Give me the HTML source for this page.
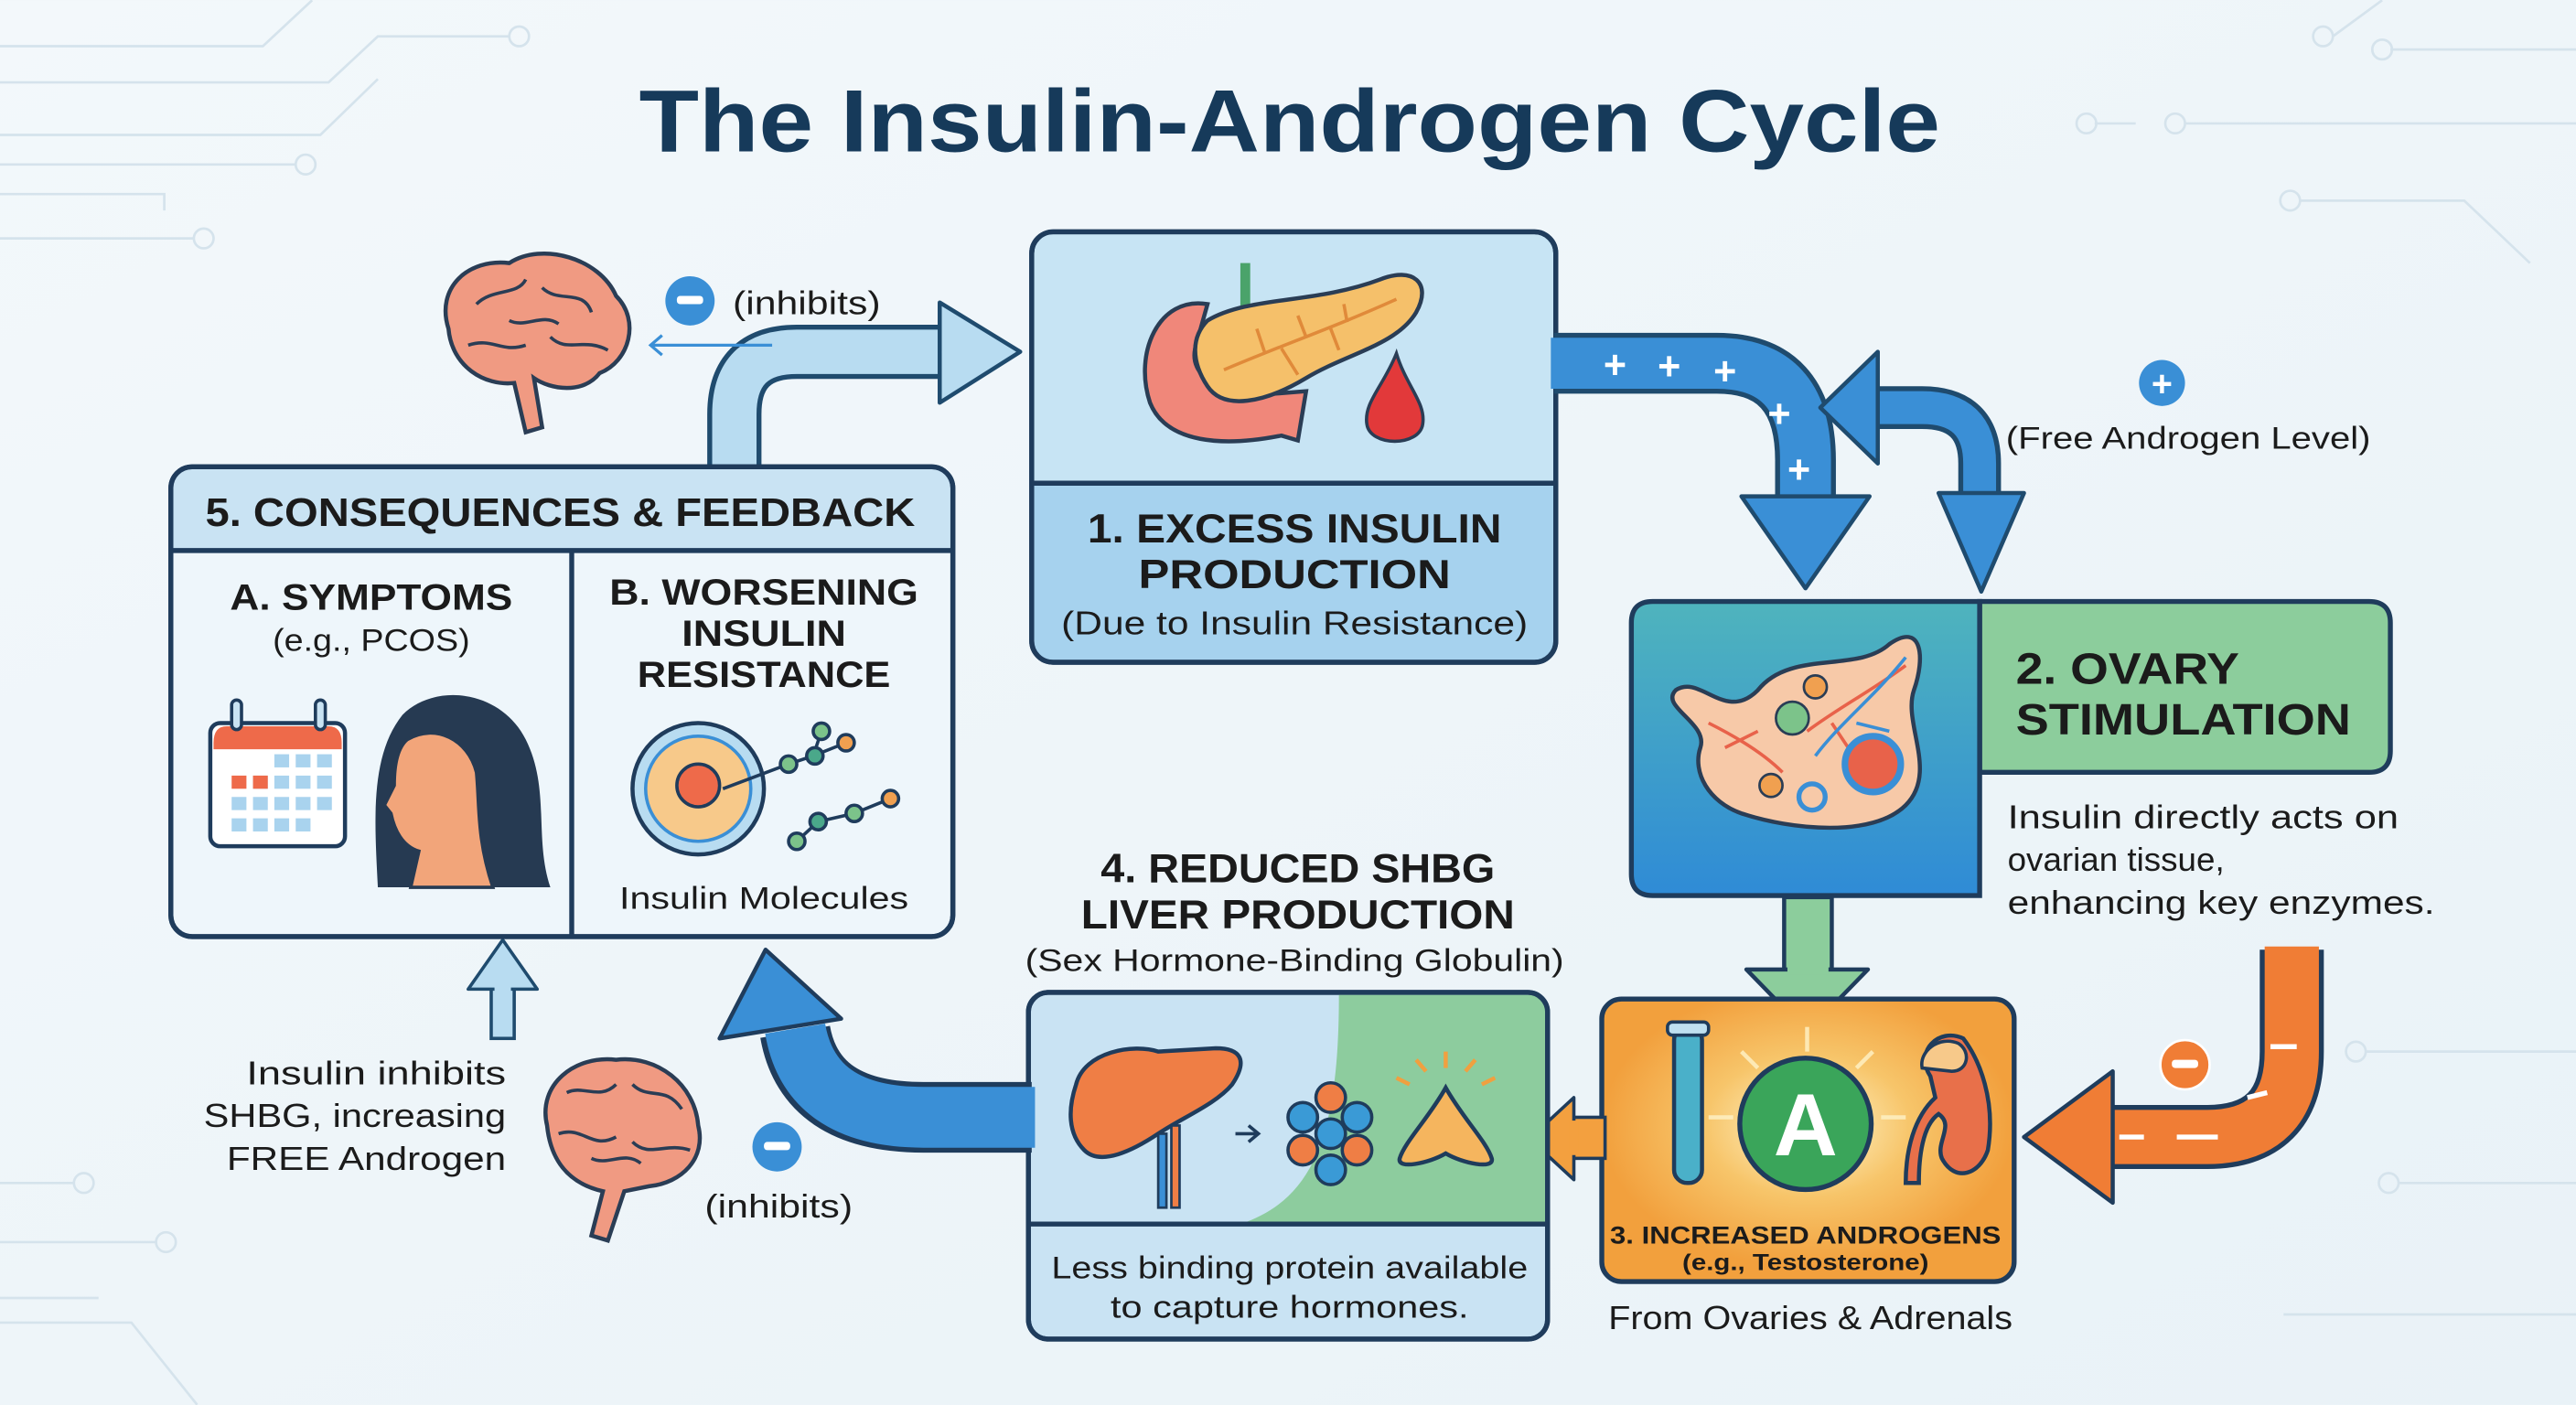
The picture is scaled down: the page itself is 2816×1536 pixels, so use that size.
<!DOCTYPE html>
<html><head><meta charset="utf-8"><style>
html,body{margin:0;padding:0;background:#eef5f9;}
svg{display:block;}
text{font-family:"Liberation Sans",sans-serif;fill:#1b1b1b;}
.b{font-weight:bold;}
</style></head><body>
<svg width="2816" height="1536" viewBox="0 0 1568 855" xmlns="http://www.w3.org/2000/svg">
<defs>
<linearGradient id="bg" x1="0" y1="0" x2="1" y2="1"><stop offset="0" stop-color="#f3f8fb"/><stop offset="1" stop-color="#e9f2f7"/></linearGradient>
<linearGradient id="ov" x1="0" y1="0" x2="0" y2="1"><stop offset="0" stop-color="#4fb4bd"/><stop offset="1" stop-color="#2f8bd6"/></linearGradient>
<radialGradient id="glow" cx="0.5" cy="0.45" r="0.5"><stop offset="0" stop-color="#fff7d0"/><stop offset="0.5" stop-color="#f7c56a"/><stop offset="1" stop-color="#f2a03d"/></radialGradient>
</defs>
<rect width="1568" height="855" fill="url(#bg)"/>
<g stroke="#d5e3ec" stroke-width="1.5" fill="none">
<path d="M0 28 H160 L190 0"/><path d="M0 50 H200 L230 22 H310"/><circle cx="316" cy="22" r="6"/>
<path d="M0 82 H195 L230 48"/><path d="M0 100 H180"/><circle cx="186" cy="100" r="6"/>
<path d="M0 118 H100 V128"/><path d="M0 145 H118"/><circle cx="124" cy="145" r="6"/>
<path d="M1420 22 L1450 0"/><circle cx="1414" cy="22" r="6"/><path d="M1455 30 H1568"/><circle cx="1450" cy="30" r="6"/>
<path d="M1330 75 H1568"/><circle cx="1324" cy="75" r="6"/><path d="M1400 122 H1500 L1540 160"/><circle cx="1394" cy="122" r="6"/>
<path d="M1275 75 H1300"/><circle cx="1270" cy="75" r="6"/>
<path d="M0 720 H45"/><circle cx="51" cy="720" r="6"/><path d="M0 756 H95"/><circle cx="101" cy="756" r="6"/>
<path d="M0 805 H80 L120 855"/><path d="M0 790 H60"/>
<path d="M1440 640 H1568"/><circle cx="1434" cy="640" r="6"/><path d="M1460 720 H1568"/><circle cx="1454" cy="720" r="6"/><path d="M1390 800 H1568"/>
</g>

<text x="785" y="92" text-anchor="middle" class="b" font-size="54" style="fill:#163a5a" textLength="792" lengthAdjust="spacingAndGlyphs">The Insulin-Androgen Cycle</text>

<path d="M447 290 V252 Q447 214 485 214 H578" fill="none" stroke="#1f4b6e" stroke-width="33"/>
<path d="M447 292 V252 Q447 214 485 214 H580" fill="none" stroke="#b8dcf1" stroke-width="27"/>
<polygon points="572,184 621,214 572,245" fill="#b8dcf1" stroke="#1f4b6e" stroke-width="2.5" stroke-linejoin="round"/>

<g transform="translate(325,205)">
<path d="M-52 -5 C-60 -30 -40 -48 -15 -45 C5 -58 40 -48 50 -25 C65 -10 58 15 40 22 C30 35 10 32 0 25 L5 55 L-5 58 L-12 28 C-30 30 -50 18 -52 -5Z" fill="#f09a82" stroke="#2a3d55" stroke-width="2.5"/>
<path d="M-35 -20 C-25 -30 -10 -25 -5 -35 M5 -30 C15 -20 30 -30 35 -15 M-40 5 C-25 0 -20 10 -5 5 M10 0 C20 10 30 0 45 8 M-15 -10 C-5 -5 5 -15 15 -8" fill="none" stroke="#2a3d55" stroke-width="2"/>
</g>
<circle cx="420" cy="183" r="15" fill="#3a8fd6"/><rect x="412" y="180" width="16" height="5" rx="2" fill="#fff"/>
<text x="446" y="191" font-size="20" textLength="90" lengthAdjust="spacingAndGlyphs">(inhibits)</text>
<path d="M470 210 H396 M403 204 L396 210 L403 216" fill="none" stroke="#3a8fd6" stroke-width="1.8"/>

<rect x="628" y="141" width="319" height="262" rx="13" fill="#c7e4f4" stroke="#1f3c5c" stroke-width="3"/>
<path d="M629.5 294 H945.5 V390 Q945.5 401.5 934 401.5 H642 Q629.5 401.5 629.5 390Z" fill="#a6d2ee"/>
<rect x="628" y="141" width="319" height="262" rx="13" fill="none" stroke="#1f3c5c" stroke-width="3"/>
<line x1="628" y1="294" x2="947" y2="294" stroke="#1f3c5c" stroke-width="3"/>
<rect x="755" y="160" width="6" height="30" fill="#4aa36a"/>
<path d="M735 185 C705 180 690 215 700 245 C710 270 745 272 780 265 L790 268 L795 238 L770 240 C745 240 722 230 728 210Z" fill="#f0877a" stroke="#2a3d55" stroke-width="2.5"/>
<path d="M735 195 C760 180 800 185 840 170 C860 162 872 172 862 190 C850 210 820 215 795 230 C770 245 745 250 735 235 C725 220 725 205 735 195Z" fill="#f5c06a" stroke="#2a3d55" stroke-width="2.5"/>
<path d="M745 225 C780 210 810 200 850 182 M770 215 L765 200 M795 205 L790 192 M820 196 L818 185 M780 212 L790 228 M810 200 L815 213" fill="none" stroke="#e08a3a" stroke-width="2"/>
<path d="M850 215 C842 235 830 245 832 258 C834 272 864 272 866 258 C868 245 856 235 850 215Z" fill="#e2393a" stroke="#2a3d55" stroke-width="2"/>
<text x="788" y="330" text-anchor="middle" class="b" font-size="25" textLength="252" lengthAdjust="spacingAndGlyphs">1. EXCESS INSULIN</text>
<text x="788" y="358" text-anchor="middle" class="b" font-size="25" textLength="190" lengthAdjust="spacingAndGlyphs">PRODUCTION</text>
<text x="788" y="386" text-anchor="middle" font-size="20" textLength="284" lengthAdjust="spacingAndGlyphs">(Due to Insulin Resistance)</text>

<path d="M946 221 H1045 Q1099 221 1099 280 V306" fill="none" stroke="#1f4b6e" stroke-width="37"/>
<path d="M944 221 H1045 Q1099 221 1099 280 V308" fill="none" stroke="#3a8fd6" stroke-width="31"/>
<polygon points="1060,302 1138,302 1099,358" fill="#3a8fd6" stroke="#1f4b6e" stroke-width="2.5" stroke-linejoin="round"/>
<g font-size="24" class="b"><text x="976" y="230" style="fill:#fff">+</text><text x="1009" y="231" style="fill:#fff">+</text><text x="1043" y="234" style="fill:#fff">+</text><text x="1076" y="260" style="fill:#fff">+</text><text x="1088" y="294" style="fill:#fff">+</text></g>

<path d="M1205 310 V282 Q1205 248 1170 248 H1140" fill="none" stroke="#1f4b6e" stroke-width="26"/>
<path d="M1205 312 V282 Q1205 248 1170 248 H1138" fill="none" stroke="#3a8fd6" stroke-width="20"/>
<polygon points="1180,300 1232,300 1206,360" fill="#3a8fd6" stroke="#1f4b6e" stroke-width="2.5" stroke-linejoin="round"/>
<polygon points="1143,214 1108,248 1143,282" fill="#3a8fd6" stroke="#1f4b6e" stroke-width="2.5" stroke-linejoin="round"/>
<circle cx="1316" cy="233" r="14" fill="#3a8fd6"/><text x="1316" y="241" text-anchor="middle" class="b" font-size="22" style="fill:#fff">+</text>
<text x="1221" y="273" font-size="19" textLength="222" lengthAdjust="spacingAndGlyphs">(Free Androgen Level)</text>

<path d="M1205 366 H1442 Q1455 366 1455 379 V457 Q1455 470 1442 470 H1205Z" fill="#8ccd9c" stroke="#1f3c5c" stroke-width="3"/>
<path d="M1006 366 H1205 V545 H1006 Q993 545 993 532 V379 Q993 366 1006 366Z" fill="url(#ov)" stroke="#1f3c5c" stroke-width="3"/>
<path d="M1020 420 C1035 410 1050 440 1070 420 C1090 395 1130 410 1150 392 C1170 378 1172 400 1165 420 C1158 440 1180 470 1160 490 C1140 510 1090 505 1060 495 C1040 488 1030 470 1035 455 C1040 440 1010 430 1020 420Z" fill="#f7c9a8" stroke="#2a3d55" stroke-width="2.5"/>
<path d="M1040 440 C1060 450 1075 460 1085 470 M1050 455 L1070 445 M1100 445 C1120 430 1140 420 1160 405 M1115 440 L1125 455" fill="none" stroke="#e8624a" stroke-width="2"/>
<path d="M1105 460 C1120 440 1140 425 1160 400 M1130 440 L1150 445" fill="none" stroke="#3a8fd6" stroke-width="2"/>
<circle cx="1091" cy="437" r="10" fill="#7cc38a" stroke="#2a3d55" stroke-width="1.5"/>
<circle cx="1105" cy="418" r="7" fill="#f0a050" stroke="#2a3d55" stroke-width="1.5"/>
<circle cx="1140" cy="465" r="17" fill="#e8624a" stroke="#3a8fd6" stroke-width="4"/>
<circle cx="1103" cy="485" r="8" fill="#f7c9a8" stroke="#3a8fd6" stroke-width="3"/>
<circle cx="1078" cy="478" r="7" fill="#f0a050" stroke="#2a3d55" stroke-width="1.5"/>
<text x="1227" y="416" class="b" font-size="27" textLength="136" lengthAdjust="spacingAndGlyphs">2. OVARY</text>
<text x="1227" y="447" class="b" font-size="27" textLength="204" lengthAdjust="spacingAndGlyphs">STIMULATION</text>
<text x="1222" y="504" font-size="20" textLength="238" lengthAdjust="spacingAndGlyphs">Insulin directly acts on</text>
<text x="1222" y="530" font-size="20" textLength="132" lengthAdjust="spacingAndGlyphs">ovarian tissue,</text>
<text x="1222" y="556" font-size="20" textLength="260" lengthAdjust="spacingAndGlyphs">enhancing key enzymes.</text>

<rect x="1086" y="546" width="29" height="46" fill="#8ccd9c" stroke="#1f3c5c" stroke-width="2.5"/>
<polygon points="1063,590 1137,590 1100,628" fill="#8ccd9c" stroke="#1f3c5c" stroke-width="2.5" stroke-linejoin="round"/>
<rect x="1088" y="585" width="25" height="8" fill="#8ccd9c"/>

<rect x="975" y="608" width="251" height="172" rx="12" fill="url(#glow)" stroke="#1f3c5c" stroke-width="3"/>
<g stroke="#fff3c8" stroke-width="2.5" opacity="0.8"><line x1="1100" y1="640" x2="1100" y2="625"/><line x1="1070" y1="650" x2="1060" y2="640"/><line x1="1130" y1="650" x2="1140" y2="640"/><line x1="1055" y1="680" x2="1040" y2="680"/><line x1="1145" y1="680" x2="1160" y2="680"/></g>
<rect x="1019" y="625" width="17" height="95" rx="8" fill="#4ab0c9" stroke="#1f3c5c" stroke-width="2.5"/>
<rect x="1015" y="622" width="25" height="8" rx="3" fill="#bfe0f0" stroke="#1f3c5c" stroke-width="2"/>
<circle cx="1099" cy="684" r="40" fill="#3aa55a" stroke="#1f3c5c" stroke-width="3"/>
<text x="1099" y="703" text-anchor="middle" class="b" font-size="54" style="fill:#fff">A</text>
<path d="M1175 655 C1165 640 1180 625 1195 632 C1205 645 1215 670 1210 700 C1205 715 1190 720 1182 705 C1178 695 1190 685 1180 678 C1170 685 1168 705 1168 720 L1160 720 C1160 700 1165 680 1178 668Z" fill="#e8704a" stroke="#1f3c5c" stroke-width="2.5"/>
<path d="M1170 650 C1168 640 1180 630 1192 635 C1200 640 1198 652 1188 652Z" fill="#f7c98a" stroke="#1f3c5c" stroke-width="2"/>
<text x="1099" y="757" text-anchor="middle" class="b" font-size="15" textLength="238" lengthAdjust="spacingAndGlyphs">3. INCREASED ANDROGENS</text>
<text x="1099" y="773" text-anchor="middle" class="b" font-size="14" textLength="150" lengthAdjust="spacingAndGlyphs">(e.g., Testosterone)</text>
<text x="1102" y="809" text-anchor="middle" font-size="20" textLength="246" lengthAdjust="spacingAndGlyphs">From Ovaries &amp; Adrenals</text>

<path d="M1395 578 V640 Q1395 692 1343 692 H1284" fill="none" stroke="#1f3c5c" stroke-width="39"/>
<path d="M1395 576 V640 Q1395 692 1343 692 H1282" fill="none" stroke="#f07d35" stroke-width="33"/>
<polygon points="1286,652 1286,732 1232,692" fill="#f07d35" stroke="#1f3c5c" stroke-width="2.5" stroke-linejoin="round"/>
<circle cx="1330" cy="648" r="15" fill="#f07d35" stroke="#fff" stroke-width="1.5"/><rect x="1322" y="645" width="16" height="5" rx="2" fill="#fff"/>
<g stroke="#fff" stroke-width="3"><line x1="1382" y1="637" x2="1398" y2="637"/><line x1="1368" y1="668" x2="1380" y2="665"/><line x1="1325" y1="692" x2="1350" y2="692"/><line x1="1290" y1="692" x2="1305" y2="692"/></g>

<rect x="955" y="680" width="22" height="25" fill="#f3a03f" stroke="#1f3c5c" stroke-width="2"/>
<polygon points="958,668 958,718 931,693" fill="#f3a03f" stroke="#1f3c5c" stroke-width="2" stroke-linejoin="round"/>
<rect x="955" y="682" width="6" height="21" fill="#f3a03f"/>

<text x="790" y="537" text-anchor="middle" class="b" font-size="25" textLength="240" lengthAdjust="spacingAndGlyphs">4. REDUCED SHBG</text>
<text x="790" y="565" text-anchor="middle" class="b" font-size="25" textLength="264" lengthAdjust="spacingAndGlyphs">LIVER PRODUCTION</text>
<text x="788" y="591" text-anchor="middle" font-size="19" textLength="328" lengthAdjust="spacingAndGlyphs">(Sex Hormone-Binding Globulin)</text>
<rect x="626" y="604" width="316" height="211" rx="12" fill="#c9e3f3" stroke="#1f3c5c" stroke-width="3"/>
<path d="M815 605.5 H930 Q940.5 605.5 940.5 616 V745 H755 C800 730 815 690 815 605.5Z" fill="#8dcc9e"/>
<rect x="626" y="604" width="316" height="211" rx="12" fill="none" stroke="#1f3c5c" stroke-width="3"/>
<line x1="626" y1="745" x2="942" y2="745" stroke="#1f3c5c" stroke-width="3"/>
<path d="M655 660 C660 640 690 635 705 640 L740 638 C755 638 760 645 750 660 C740 672 720 680 705 690 C690 700 670 710 660 700 C650 690 650 675 655 660Z" fill="#ef7e45" stroke="#1f3c5c" stroke-width="2.5"/>
<rect x="705" y="690" width="5" height="45" fill="#3a8fd6" stroke="#1f3c5c" stroke-width="1.5"/>
<rect x="713" y="685" width="5" height="50" fill="#ef7e45" stroke="#1f3c5c" stroke-width="1.5"/>
<line x1="752" y1="690" x2="765" y2="690" stroke="#1f3c5c" stroke-width="2"/><path d="M760 685 L766 690 L760 695" fill="none" stroke="#1f3c5c" stroke-width="2"/>
<g stroke="#1f3c5c" stroke-width="2">
<circle cx="810" cy="668" r="9" fill="#ef7e45"/><circle cx="793" cy="680" r="9" fill="#3a9ad6"/><circle cx="826" cy="680" r="9" fill="#3a9ad6"/>
<circle cx="793" cy="700" r="9" fill="#ef7e45"/><circle cx="826" cy="700" r="9" fill="#ef7e45"/><circle cx="810" cy="712" r="9" fill="#3a9ad6"/><circle cx="810" cy="690" r="9" fill="#3a9ad6"/>
</g>
<path d="M880 662 C870 680 855 695 852 705 C850 712 870 708 880 702 C890 708 910 712 908 705 C905 695 890 680 880 662Z" fill="#f5b55e" stroke="#1f3c5c" stroke-width="2.5"/>
<g stroke="#f0a040" stroke-width="2.5"><line x1="880" y1="650" x2="880" y2="640"/><line x1="868" y1="652" x2="862" y2="645"/><line x1="892" y1="652" x2="898" y2="645"/><line x1="858" y1="660" x2="850" y2="656"/><line x1="902" y1="660" x2="910" y2="656"/></g>
<text x="785" y="778" text-anchor="middle" font-size="19" textLength="290" lengthAdjust="spacingAndGlyphs">Less binding protein available</text>
<text x="785" y="802" text-anchor="middle" font-size="19" textLength="218" lengthAdjust="spacingAndGlyphs">to capture hormones.</text>

<path d="M628 680 H562 Q493 680 484 628" fill="none" stroke="#1f3c5c" stroke-width="43"/>
<path d="M630 680 H562 Q493 680 484 626" fill="none" stroke="#3a8fd6" stroke-width="37"/>
<polygon points="438,632 512,620 466,578" fill="#3a8fd6" stroke="#1f3c5c" stroke-width="2.5" stroke-linejoin="round"/>
<circle cx="473" cy="698" r="15" fill="#3a8fd6"/><rect x="465" y="695" width="16" height="5" rx="2" fill="#fff"/>
<text x="474" y="741" text-anchor="middle" font-size="20" textLength="90" lengthAdjust="spacingAndGlyphs">(inhibits)</text>

<rect x="299" y="598" width="14" height="34" fill="#b8dcf1" stroke="#1f4b6e" stroke-width="2"/>
<polygon points="285,602 327,602 306,572" fill="#b8dcf1" stroke="#1f4b6e" stroke-width="2" stroke-linejoin="round"/>
<rect x="301" y="597" width="10" height="8" fill="#b8dcf1"/>
<text x="308" y="660" text-anchor="end" font-size="20" textLength="158" lengthAdjust="spacingAndGlyphs">Insulin inhibits</text>
<text x="308" y="686" text-anchor="end" font-size="20" textLength="184" lengthAdjust="spacingAndGlyphs">SHBG, increasing</text>
<text x="308" y="712" text-anchor="end" font-size="20" textLength="170" lengthAdjust="spacingAndGlyphs">FREE Androgen</text>
<g transform="translate(375,690)">
<path d="M-42 -5 C-48 -30 -25 -48 0 -45 C25 -48 48 -30 50 -5 C55 15 40 30 20 32 L5 35 L-5 65 L-15 62 L-8 35 C-30 30 -40 15 -42 -5Z" fill="#f09a82" stroke="#2a3d55" stroke-width="2.5"/>
<path d="M-30 -25 C-20 -30 -10 -20 0 -30 M10 -30 C20 -20 30 -30 40 -15 M-35 0 C-20 -5 -15 10 0 2 M10 5 C20 15 30 5 45 10 M-15 15 C-5 20 5 10 15 18" fill="none" stroke="#2a3d55" stroke-width="2"/>
</g>

<rect x="104" y="284" width="476" height="286" rx="13" fill="#eef6fb" stroke="#1f3c5c" stroke-width="3"/>
<path d="M105.5 335 V298 Q105.5 285.5 118 285.5 H566 Q578.5 285.5 578.5 298 V335Z" fill="#c9e3f3"/>
<rect x="104" y="284" width="476" height="286" rx="13" fill="none" stroke="#1f3c5c" stroke-width="3"/>
<line x1="104" y1="335" x2="580" y2="335" stroke="#1f3c5c" stroke-width="3"/>
<line x1="348" y1="335" x2="348" y2="570" stroke="#1f3c5c" stroke-width="3"/>
<text x="341" y="320" text-anchor="middle" class="b" font-size="24" textLength="432" lengthAdjust="spacingAndGlyphs">5. CONSEQUENCES &amp; FEEDBACK</text>
<text x="226" y="371" text-anchor="middle" class="b" font-size="22" textLength="172" lengthAdjust="spacingAndGlyphs">A. SYMPTOMS</text>
<text x="226" y="396" text-anchor="middle" font-size="19" textLength="120" lengthAdjust="spacingAndGlyphs">(e.g., PCOS)</text>
<text x="465" y="368" text-anchor="middle" class="b" font-size="22" textLength="188" lengthAdjust="spacingAndGlyphs">B. WORSENING</text>
<text x="465" y="393" text-anchor="middle" class="b" font-size="22" textLength="100" lengthAdjust="spacingAndGlyphs">INSULIN</text>
<text x="465" y="418" text-anchor="middle" class="b" font-size="22" textLength="154" lengthAdjust="spacingAndGlyphs">RESISTANCE</text>
<text x="465" y="553" text-anchor="middle" font-size="19" textLength="176" lengthAdjust="spacingAndGlyphs">Insulin Molecules</text>
<rect x="128" y="440" width="82" height="75" rx="6" fill="#fff" stroke="#1f3c5c" stroke-width="2.5"/>
<path d="M130 452 Q130 442 138 442 H200 Q208 442 208 452 V456 H130Z" fill="#ee6a4a"/>
<rect x="141" y="426" width="6" height="18" rx="3" fill="#c9e3f3" stroke="#1f3c5c" stroke-width="2"/><rect x="192" y="426" width="6" height="18" rx="3" fill="#c9e3f3" stroke="#1f3c5c" stroke-width="2"/>
<g fill="#a9d3ee"><rect x="167" y="459" width="9" height="8"/><rect x="180" y="459" width="9" height="8"/><rect x="193" y="459" width="9" height="8"/>
<rect x="154" y="472" width="9" height="8"/><rect x="167" y="472" width="9" height="8"/><rect x="180" y="472" width="9" height="8"/><rect x="193" y="472" width="9" height="8"/>
<rect x="141" y="485" width="9" height="8"/><rect x="154" y="485" width="9" height="8"/><rect x="167" y="485" width="9" height="8"/><rect x="180" y="485" width="9" height="8"/><rect x="193" y="485" width="9" height="8"/>
<rect x="141" y="498" width="9" height="8"/><rect x="154" y="498" width="9" height="8"/><rect x="167" y="498" width="9" height="8"/><rect x="180" y="498" width="9" height="8"/></g>
<rect x="141" y="472" width="9" height="8" fill="#ee6a4a"/><rect x="154" y="472" width="9" height="8" fill="#ee6a4a"/>
<path d="M230 540 C228 500 225 460 245 435 C265 415 305 420 320 450 C335 480 325 510 335 540Z" fill="#263a52"/>
<path d="M248 450 C265 440 285 450 290 470 C292 490 290 510 300 540 H250 L255 518 C245 515 240 505 238 495 L234 490 L240 478 C240 465 242 455 248 450Z" fill="#f2a57a" stroke="#263a52" stroke-width="2"/>
<circle cx="425" cy="480" r="40" fill="#b8dcf1" stroke="#1f3c5c" stroke-width="2.5"/>
<circle cx="425" cy="480" r="32" fill="#f7c98a" stroke="#3a8fd6" stroke-width="2"/>
<circle cx="425" cy="478" r="13" fill="#ee6a4a" stroke="#1f3c5c" stroke-width="2"/>
<g stroke="#1f3c5c" stroke-width="2"><line x1="440" y1="480" x2="480" y2="465"/><line x1="480" y1="465" x2="495" y2="460"/><line x1="495" y1="460" x2="515" y2="452"/><line x1="495" y1="460" x2="500" y2="445"/><line x1="485" y1="512" x2="498" y2="500"/><line x1="498" y1="500" x2="520" y2="495"/><line x1="520" y1="495" x2="542" y2="486"/>
<circle cx="480" cy="465" r="5" fill="#7cc38a"/><circle cx="496" cy="460" r="5" fill="#4aa88a"/><circle cx="500" cy="445" r="5" fill="#7cc38a"/><circle cx="515" cy="452" r="5" fill="#f0a050"/><circle cx="485" cy="512" r="5" fill="#7cc38a"/><circle cx="498" cy="500" r="5" fill="#4aa88a"/><circle cx="520" cy="495" r="5" fill="#7cc38a"/><circle cx="542" cy="486" r="5" fill="#f0a050"/></g>
</svg>
</body></html>
